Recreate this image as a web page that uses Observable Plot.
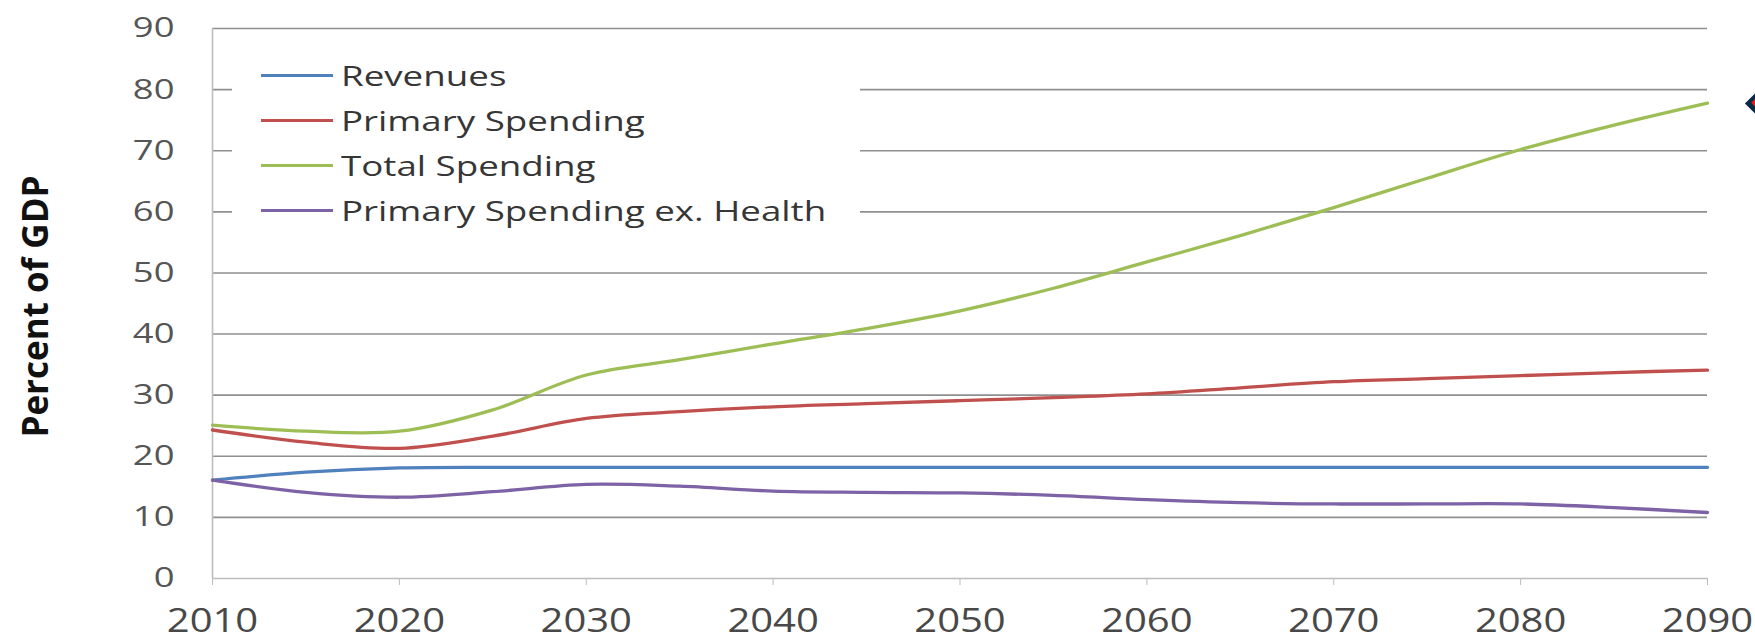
<!DOCTYPE html>
<html>
<head>
<meta charset="utf-8">
<script src="https://cdn.jsdelivr.net/npm/d3@7"></script>
<script src="https://cdn.jsdelivr.net/npm/@observablehq/plot@0.6"></script>
<style>
  html, body { margin: 0; padding: 0; background: #fff; overflow: hidden; }
  #wrap { position: relative; width: 1755px; height: 640px; }
  #legend { position: absolute; left: 232px; top: 45px; width: 628px; height: 185px; background: #fff;
            font-family: "Open Sans", sans-serif; font-size: 27px; color: #363636; }
  .row { position: absolute; left: 29px; height: 44px; display: flex; align-items: center; }
  .sw { width: 72px; height: 3px; margin-right: 8px; }
  .row span { display: inline-block; transform: scaleX(1.36); transform-origin: left center; white-space: nowrap; }
  #marker { position: absolute; left: 1748px; top: 96px; width: 15px; height: 15px; background: #0c2a45; transform: rotate(45deg); }
  #marker span { position: absolute; left: 4px; top: 4px; width: 6px; height: 6px; background: #e02020; }
</style>
</head>
<body>
<div id="wrap"></div>
<script>
const years = [2010, 2015, 2020, 2025, 2030, 2035, 2040, 2045, 2050, 2055, 2060, 2065, 2070, 2075, 2080, 2085, 2090];
const seriesNames = ["Revenues", "Primary Spending", "Total Spending", "Primary Spending ex. Health"];
const seriesColors = ["#4F81BD", "#C0504D", "#9DBE55", "#7E62A6"];
const revenues      = [16.1, 17.4, 18.1, 18.2, 18.2, 18.2, 18.2, 18.2, 18.2, 18.2, 18.2, 18.2, 18.2, 18.2, 18.2, 18.2, 18.2];
const primarySpend  = [24.3, 22.3, 21.3, 23.3, 26.2, 27.3, 28.1, 28.6, 29.1, 29.6, 30.2, 31.2, 32.2, 32.7, 33.2, 33.7, 34.1];
const totalSpend    = [25.1, 24.1, 24.1, 27.6, 33.3, 35.8, 38.4, 40.9, 43.8, 47.5, 51.8, 56.1, 60.7, 65.5, 70.2, 74.2, 77.8];
const primaryExHealth = [16.1, 14.1, 13.3, 14.2, 15.4, 15.1, 14.3, 14.1, 14.0, 13.6, 12.9, 12.4, 12.2, 12.2, 12.2, 11.6, 10.8];
const xTicks = [2010, 2020, 2030, 2040, 2050, 2060, 2070, 2080, 2090];
const yTicks = [0, 10, 20, 30, 40, 50, 60, 70, 80, 90];
const yTitle = "Percent of GDP";

const seriesValues = [revenues, primarySpend, totalSpend, primaryExHealth];
const data = [];
seriesNames.forEach((name, i) => {
  years.forEach((yr, j) => data.push({series: name, year: yr, value: seriesValues[i][j]}));
});

const chart = Plot.plot({
  width: 1755,
  height: 640,
  marginLeft: 212,
  marginRight: 48,
  marginTop: 28,
  marginBottom: 62,
  style: {fontFamily: "'Open Sans', sans-serif", background: "#fff", overflow: "visible"},
  x: {domain: [2010, 2090], ticks: xTicks, tickFormat: d => String(d)},
  y: {domain: [0, 90], ticks: yTicks},
  color: {domain: seriesNames, range: seriesColors},
  marks: [
    Plot.ruleY(yTicks.filter(d => d > 0), {stroke: "#8f8f8f", strokeWidth: 1.6}),
    Plot.ruleY([0], {stroke: "#bdbdbd", strokeWidth: 1.6}),
    Plot.ruleX([xTicks[0]], {stroke: "#bdbdbd", strokeWidth: 1.6}),
    Plot.axisX({ticks: xTicks, tickFormat: d => String(d), tickSize: 7, tickPadding: 24, fontSize: 32, fill: "#484848", stroke: "#bdbdbd", label: null}),
    Plot.axisY({ticks: yTicks, tickSize: 0, tickPadding: 38, fontSize: 28, fill: "#555", label: null}),
    Plot.line(data, {x: "year", y: "value", z: "series", stroke: "series", strokeWidth: 3.3, curve: "catmull-rom"}),
    Plot.text([yTitle], {frameAnchor: "left", dx: -176, dy: 3, rotate: -90, textAnchor: "middle", fontSize: 35, fontWeight: "bold", fill: "#111"})
  ]
});

// widen the tick labels horizontally, as in the reference rendering
function stretch(selector, sx) {
  chart.querySelectorAll(selector).forEach(t => {
    const tr = t.getAttribute("transform") || "";
    t.setAttribute("transform", tr + ` scale(${sx},1)`);
  });
}
stretch('g[aria-label="x-axis tick label"] text', 1.25);
stretch('g[aria-label="y-axis tick label"] text', 1.3);

const wrap = document.getElementById("wrap");
wrap.appendChild(chart);

const legend = document.createElement("div");
legend.id = "legend";
seriesNames.forEach((name, i) => {
  const row = document.createElement("div");
  row.className = "row";
  row.style.top = (8 + i * 45) + "px";
  const sw = document.createElement("div");
  sw.className = "sw";
  sw.style.background = seriesColors[i];
  const t = document.createElement("span");
  t.textContent = name;
  row.appendChild(sw);
  row.appendChild(t);
  legend.appendChild(row);
});
wrap.appendChild(legend);

const marker = document.createElement("div");
marker.id = "marker";
marker.appendChild(document.createElement("span"));
wrap.appendChild(marker);
</script>
</body>
</html>
